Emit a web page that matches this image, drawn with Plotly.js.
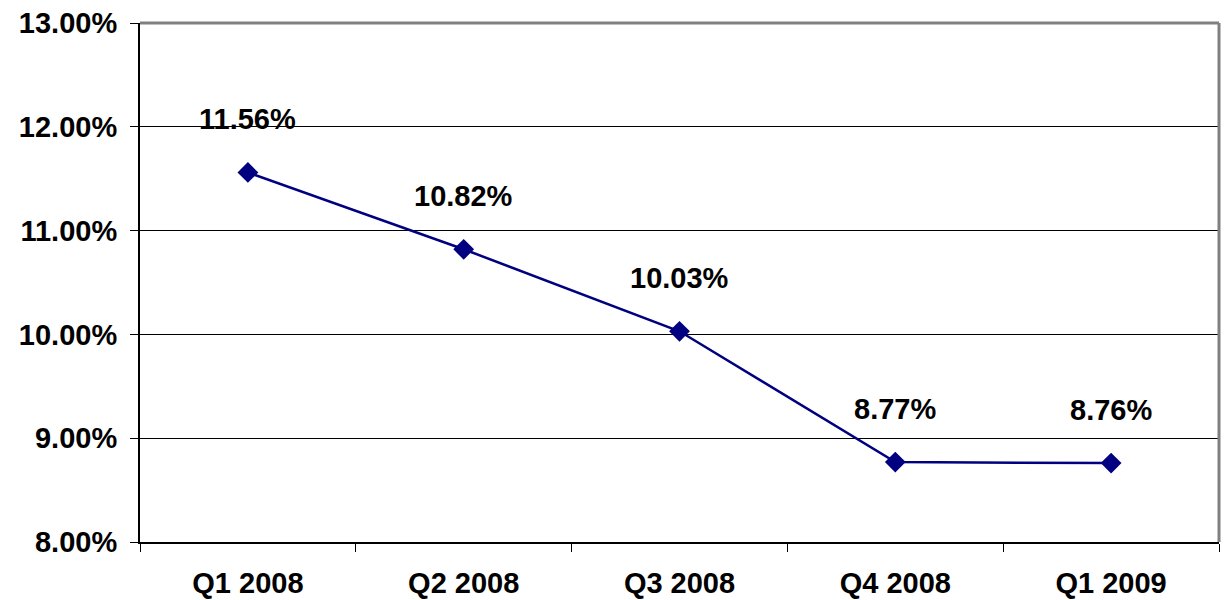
<!DOCTYPE html>
<html>
<head>
<meta charset="utf-8">
<script src="https://cdn.plot.ly/plotly-3.0.1.min.js"></script>
<style>
  html, body { margin: 0; padding: 0; background: #fff; }
  #chart { width: 1224px; height: 600px; }
</style>
</head>
<body>
<div id="chart"></div>
<script>
// Quarterly rate, in percent
const quarters = ['Q1 2008', 'Q2 2008', 'Q3 2008', 'Q4 2008', 'Q1 2009'];
const rates = [11.56, 10.82, 10.03, 8.77, 8.76];

const navy = '#000080';
const fontFamily = 'Arial, "Liberation Sans", sans-serif';

const trace = {
  x: quarters,
  y: rates,
  type: 'scatter',
  mode: 'lines+markers',
  line: { color: navy, width: 2.5 },
  marker: { symbol: 'diamond', size: 16, color: navy },
  hoverinfo: 'skip'
};

// Value labels sitting above each point
const labels = quarters.map((q, i) => ({
  x: q,
  y: rates[i],
  xref: 'x',
  yref: 'y',
  text: rates[i].toFixed(2) + '%',
  showarrow: false,
  yshift: 53,
  font: { family: fontFamily, size: 29, color: '#000', weight: 'bold' }
}));

const layout = {
  width: 1224,
  height: 600,
  margin: { l: 140, r: 5, t: 23, b: 58 },
  paper_bgcolor: '#fff',
  plot_bgcolor: '#fff',
  showlegend: false,
  font: { family: fontFamily, size: 29, color: '#000', weight: 'bold' },
  xaxis: {
    type: 'category',
    range: [-0.5, 4.5],
    tickson: 'boundaries',
    ticks: 'outside',
    ticklen: 8,
    tickwidth: 1,
    tickcolor: '#000',
    ticklabelstandoff: 14,
    showgrid: false,
    showline: true,
    linecolor: '#000',
    linewidth: 2,
    zeroline: false,
    fixedrange: true
  },
  yaxis: {
    range: [8, 13],
    dtick: 1,
    tick0: 8,
    tickformat: '.2f',
    ticksuffix: '%',
    ticks: 'outside',
    ticklen: 8,
    tickwidth: 1,
    tickcolor: '#000',
    ticklabelstandoff: 7,
    showgrid: true,
    gridcolor: '#000',
    gridwidth: 1,
    showline: true,
    linecolor: '#000',
    linewidth: 2,
    zeroline: false,
    fixedrange: true
  },
  shapes: [
    { type: 'line', xref: 'paper', yref: 'paper', x0: 0, x1: 1, y0: 1, y1: 1,
      line: { color: '#808080', width: 3 } },
    { type: 'line', xref: 'paper', yref: 'paper', x0: 1, x1: 1, y0: 0, y1: 1,
      line: { color: '#808080', width: 3 } }
  ],
  annotations: labels
};

Plotly.newPlot('chart', [trace], layout, { displayModeBar: false, staticPlot: true });
</script>
</body>
</html>
